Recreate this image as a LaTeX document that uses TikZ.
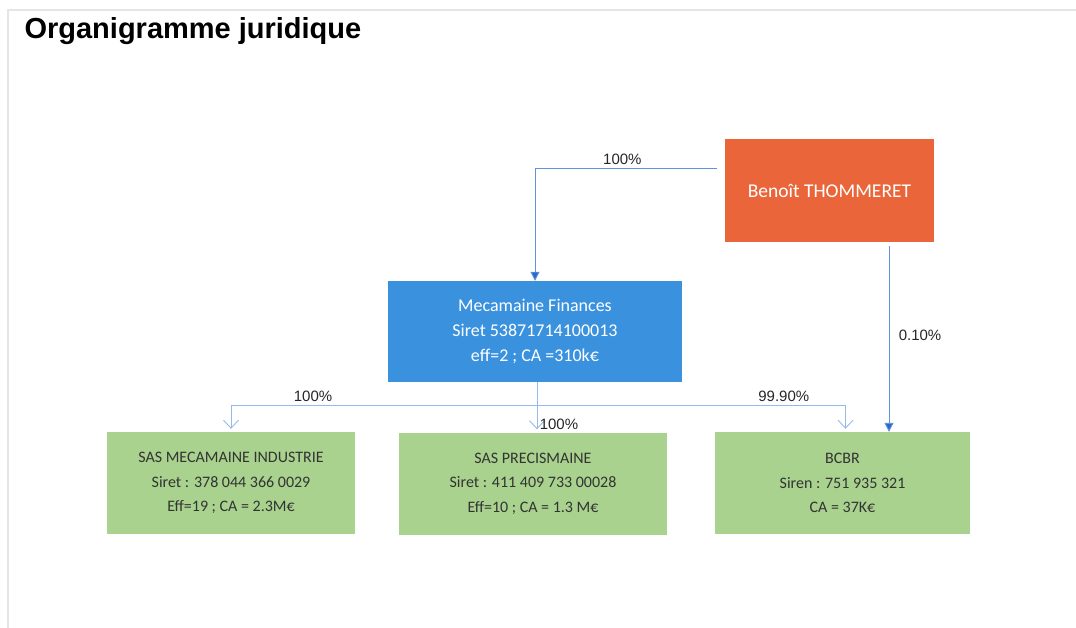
\documentclass[tikz,border=0pt]{standalone}
\usepackage{fontspec}
\setmainfont{Carlito}
\newfontfamily\titlefont{Liberation Sans}
\usetikzlibrary{arrows.meta}

\definecolor{orangebox}{RGB}{234,102,58}
\definecolor{bluebox}{RGB}{58,146,222}
\definecolor{greenbox}{RGB}{168,210,142}
\definecolor{linkblue}{RGB}{95,145,220}
\definecolor{lightlink}{RGB}{150,185,235}
\definecolor{tipblue}{RGB}{40,105,205}

\tikzset{
  entity/.style={rectangle, align=center, inner sep=0pt, font=\fontsize{16}{24.5}\selectfont},
  owner/.style={entity, fill=orangebox, text=white, minimum width=209pt, minimum height=103pt, font=\fontsize{19.5}{22}\selectfont},
  holding/.style={entity, fill=bluebox, text=white, minimum width=294pt, minimum height=101pt, font=\fontsize{18}{25}\selectfont},
  subsid/.style={entity, fill=greenbox, text=black!80, minimum height=102pt},
  share/.style={draw=linkblue, line width=0.9pt, -{Triangle[length=9pt,width=9pt,fill=tipblue]}},
  branch/.style={draw=lightlink, line width=0.9pt, -{Straight Barb[length=8pt,width=15pt]}, shorten >=3pt},
  pct/.style={font=\titlefont\fontsize{15}{17}\selectfont, text=black!85}
}

\begin{document}
\begin{tikzpicture}[x=1pt, y=-1pt]
    \useasboundingbox (0,0) rectangle (1076,628);
    \draw[black!10, line width=2pt] (8,628) |- (1076,10);
    \node[anchor=base west, font=\titlefont\bfseries\fontsize{29}{32}\selectfont] (title) at (21,39) {Organigramme juridique};

    \path
    node[owner] (b) at (829.5,190.5) {Beno\^it THOMMERET}
    node[holding] (m) at (535,331.5) {Mecamaine Finances\\Siret 53871714100013\\eff=2 ; CA =310k€}
    node[subsid, minimum width=248pt] (i) at (231,483) {SAS MECAMAINE INDUSTRIE\\Siret : 378 044 366 0029\\Eff=19 ; CA = 2.3M€}
    node[subsid, minimum width=268pt] (p) at (533,483.5) {SAS PRECISMAINE\\Siret : 411 409 733 00028\\Eff=10 ; CA = 1.3 M€}
    node[subsid, minimum width=255pt] (c) at (842.5,483) {BCBR\\Siren : 751 935 321\\CA = 37K€};

    \coordinate (b1) at (717,168);
    \coordinate (b2) at (889,246);
    \coordinate (h) at (537,405);

    % owner links
    \draw[share] (b1) -| node[pos=0.26, above, pct] {100\%} (m.north);
    \draw[share] (b2) -- node[pos=0.48, right=6pt, pct] {0.10\%} (b2 |- c.north);

    % subsidiaries
    \draw[draw=lightlink, line width=0.9pt] (m.south -| h) -- (h);
    \draw[branch] (h) -| node[pos=0.366, above, pct] {100\%} (i.north);
    \draw[branch] (h) -- node[pos=0.7, right=-1pt, pct] {100\%} (h |- p.north);
    \draw[branch] (h) -| node[pos=0.4, above, pct] {99.90\%} ([xshift=3pt]c.north);
\end{tikzpicture}
\end{document}
